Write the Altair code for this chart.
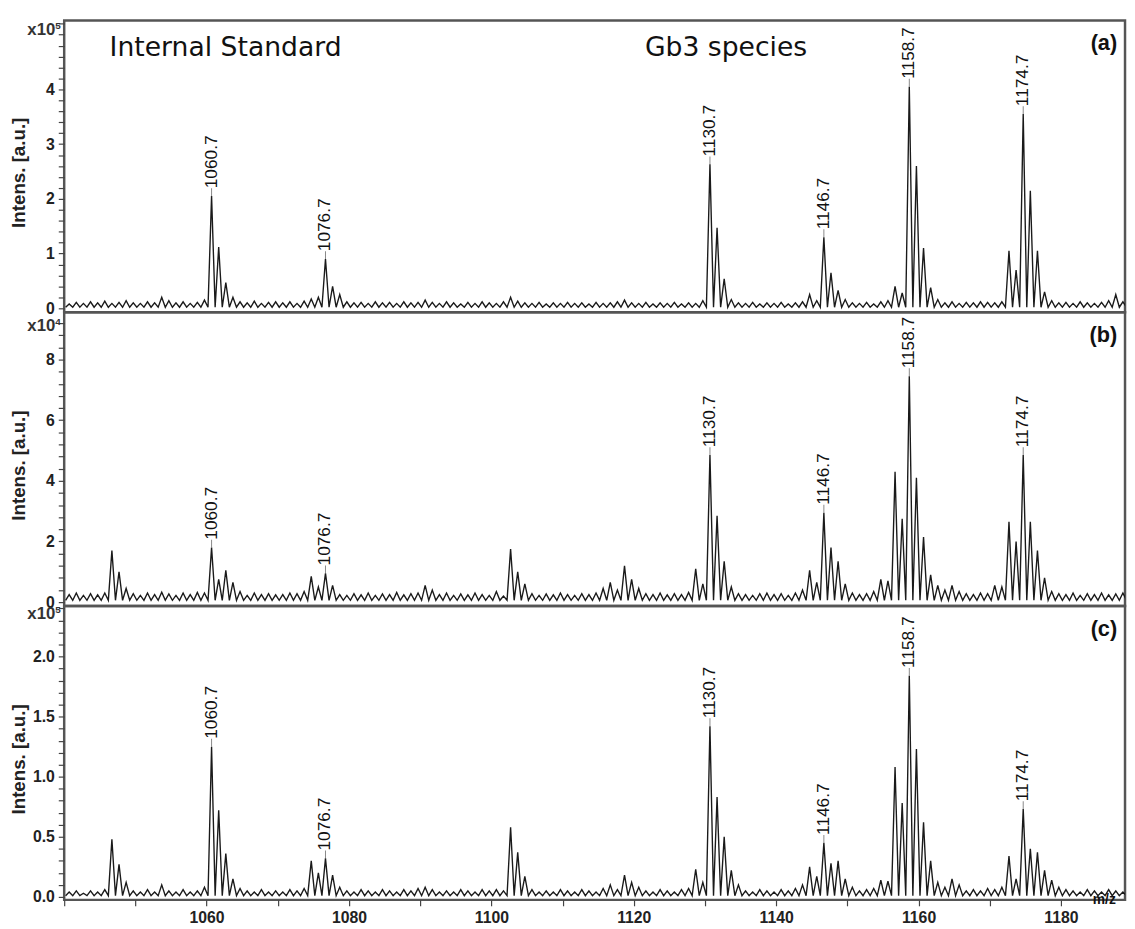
import altair as alt
import pandas as pd

# ---------------- data ----------------
MZ_FIRST = 1040.7          # first nominal-mass position (.7 series)
X_DOMAIN = [1040, 1189]

# panel (a): intensities x10^5 at 1040.7, 1041.7, ... 1188.7
a_int = [
    0.08, 0.11, 0.09, 0.12, 0.10, 0.13, 0.09, 0.11, 0.14, 0.10,
    0.09, 0.12, 0.10, 0.20, 0.14, 0.10, 0.12, 0.09, 0.11, 0.15,
    2.05, 1.12, 0.47, 0.20, 0.12, 0.10, 0.13, 0.09, 0.11, 0.12,
    0.10, 0.12, 0.09, 0.13, 0.17, 0.20, 0.90, 0.40, 0.25, 0.12,
    0.10, 0.11, 0.09, 0.12, 0.10, 0.11, 0.09, 0.12, 0.10, 0.11,
    0.15, 0.11, 0.09, 0.12, 0.10, 0.08, 0.11, 0.09, 0.12, 0.10,
    0.09, 0.12, 0.20, 0.13, 0.10, 0.09, 0.11, 0.08, 0.10, 0.09,
    0.11, 0.09, 0.10, 0.08, 0.11, 0.09, 0.10, 0.12, 0.15, 0.10,
    0.09, 0.11, 0.08, 0.10, 0.09, 0.11, 0.08, 0.10, 0.09, 0.14,
    2.63, 1.47, 0.54, 0.16, 0.10, 0.09, 0.11, 0.08, 0.10, 0.09,
    0.11, 0.08, 0.10, 0.12, 0.25, 0.14, 1.30, 0.65, 0.33, 0.16,
    0.10, 0.09, 0.11, 0.08, 0.12, 0.14, 0.40, 0.28, 4.05, 2.60,
    1.10, 0.38, 0.16, 0.10, 0.12, 0.09, 0.11, 0.10, 0.12, 0.11,
    0.10, 0.12, 1.05, 0.70, 3.55, 2.15, 1.05, 0.30, 0.14, 0.10,
    0.11, 0.09, 0.12, 0.10, 0.09, 0.11, 0.14, 0.25, 0.12,
]
# panel (b): intensities x10^4
b_int = [
    0.25, 0.30, 0.22, 0.28, 0.24, 0.30, 1.70, 1.00, 0.45, 0.28,
    0.22, 0.30, 0.25, 0.33, 0.27, 0.22, 0.30, 0.25, 0.32, 0.30,
    1.80, 0.75, 1.05, 0.65, 0.35, 0.22, 0.30, 0.25, 0.28, 0.24,
    0.25, 0.30, 0.28, 0.35, 0.85, 0.50, 0.95, 0.55, 0.25, 0.22,
    0.28, 0.24, 0.30, 0.22, 0.27, 0.25, 0.32, 0.24, 0.28, 0.30,
    0.55, 0.40, 0.25, 0.30, 0.22, 0.27, 0.24, 0.30, 0.25, 0.22,
    0.35, 0.20, 1.75, 1.00, 0.60, 0.28, 0.22, 0.27, 0.24, 0.30,
    0.25, 0.22, 0.28, 0.25, 0.30, 0.45, 0.65, 0.40, 1.20, 0.75,
    0.45, 0.28, 0.25, 0.30, 0.24, 0.28, 0.25, 0.32, 1.10, 0.60,
    4.85, 2.85, 1.35, 0.50, 0.28, 0.25, 0.22, 0.28, 0.30, 0.25,
    0.28, 0.22, 0.30, 0.40, 1.05, 0.65, 2.95, 1.80, 1.35, 0.60,
    0.30, 0.25, 0.28, 0.35, 0.75, 0.70, 4.30, 2.75, 7.45, 4.10,
    2.15, 0.90, 0.55, 0.40, 0.55, 0.35, 0.28, 0.25, 0.30, 0.28,
    0.55, 0.50, 2.65, 2.00, 4.85, 2.65, 1.70, 0.80, 0.35, 0.28,
    0.25, 0.30, 0.22, 0.28, 0.25, 0.30, 0.24, 0.27, 0.30,
]
# panel (c): intensities x10^5
c_int = [
    0.04, 0.05, 0.03, 0.05, 0.04, 0.06, 0.48, 0.27, 0.12, 0.05,
    0.04, 0.06, 0.04, 0.10, 0.05, 0.04, 0.06, 0.04, 0.05, 0.08,
    1.25, 0.72, 0.36, 0.15, 0.07, 0.05, 0.04, 0.06, 0.04, 0.05,
    0.04, 0.06, 0.05, 0.07, 0.30, 0.20, 0.32, 0.18, 0.08, 0.05,
    0.04, 0.06, 0.05, 0.04, 0.06, 0.05, 0.04, 0.06, 0.05, 0.07,
    0.08, 0.06, 0.04, 0.05, 0.04, 0.06, 0.05, 0.04, 0.06, 0.05,
    0.06, 0.05, 0.58, 0.37, 0.17, 0.06, 0.04, 0.05, 0.04, 0.06,
    0.05, 0.04, 0.06, 0.05, 0.04, 0.07, 0.10, 0.06, 0.18, 0.12,
    0.08, 0.05, 0.04, 0.06, 0.05, 0.04, 0.06, 0.07, 0.23, 0.12,
    1.42, 0.83, 0.50, 0.22, 0.10, 0.05, 0.04, 0.06, 0.05, 0.04,
    0.06, 0.05, 0.07, 0.10, 0.25, 0.17, 0.45, 0.28, 0.30, 0.15,
    0.08, 0.05, 0.06, 0.07, 0.14, 0.13, 1.08, 0.78, 1.84, 1.23,
    0.62, 0.30, 0.12, 0.08, 0.15, 0.10, 0.05, 0.06, 0.05, 0.07,
    0.06, 0.08, 0.34, 0.15, 0.73, 0.40, 0.37, 0.22, 0.14, 0.08,
    0.06, 0.05, 0.04, 0.06, 0.05, 0.04, 0.06, 0.05, 0.04,
]
baselines = [0.02, 0.06, 0.01]           # valley level between nominal masses
label_mz = [1060.7, 1076.7, 1130.7, 1146.7, 1158.7, 1174.7]
panel_tags = ["(a)", "(b)", "(c)"]
exponents = ["5", "4", "5"]
y_domains = [[-0.072, 5.26], [-0.13, 9.56], [-0.025, 2.42]]
y_major = [[0, 1, 2, 3, 4], [0, 2, 4, 6, 8], [0.0, 0.5, 1.0, 1.5, 2.0]]
y_minor_step = [0.2, 0.4, 0.1]
y_label_fmt = ["d", "d", ".1f"]
x_tick_values = [1040, 1050, 1060, 1070, 1080, 1090, 1100, 1110, 1120,
                 1130, 1140, 1150, 1160, 1170, 1180]
x_label_values = [1060, 1080, 1100, 1120, 1140, 1160, 1180]

heights = [296, 298, 298]
PLOT_W = 1076
LINE_COLOR = "#1a1a1a"
TXT = "#111111"


def spectrum_df(vals, base):
    rows = []
    for i, h in enumerate(vals):
        mz = round(MZ_FIRST + i, 1)
        rows.append({"mz": round(mz - 0.5, 1), "inten": base})
        rows.append({"mz": mz, "inten": h})
    rows.append({"mz": round(MZ_FIRST + len(vals) - 0.5, 1), "inten": base})
    return pd.DataFrame(rows)


def make_panel(k, vals):
    df = spectrum_df(vals, baselines[k])
    lookup = {round(MZ_FIRST + i, 1): h for i, h in enumerate(vals)}
    lab = pd.DataFrame({"mz": label_mz,
                        "inten": [lookup[m] for m in label_mz],
                        "txt": [f"{m:.1f}" for m in label_mz]})
    top = y_domains[k][1]
    step = y_minor_step[k]
    yvals = [round(step * j, 2) for j in range(0, int(top / step) + 1)]
    y_axis = alt.Axis(
        values=yvals,
        labelExpr=f"indexof({y_major[k]}, datum.value) >= 0 ? format(datum.value, '{y_label_fmt[k]}') : ''",
        title="Intens. [a.u.]", titleAngle=270, titleAlign="center",
        titleBaseline="alphabetic", titleX=-40, titleY=heights[k] / 2 + 6,
        tickSize=6, labelPadding=4, domain=False, grid=False,
        labelFlush=False, labelOverlap=False)
    if k == 2:
        x_axis = alt.Axis(
            values=x_tick_values,
            labelExpr=f"indexof({x_label_values}, datum.value) >= 0 ? format(datum.value, 'd') : ''",
            title=None, tickSize=6, labelPadding=4, domain=False, grid=False,
            labelFlush=False, labelOverlap=False)
    else:
        x_axis = None
    X = alt.X("mz:Q", scale=alt.Scale(domain=X_DOMAIN, nice=False, zero=False), axis=x_axis)
    Y = alt.Y("inten:Q", scale=alt.Scale(domain=y_domains[k], nice=False, zero=False), axis=y_axis)

    line = alt.Chart(df).mark_line(color=LINE_COLOR, strokeWidth=1.4, clip=True).encode(x=X, y=Y)
    marker = alt.Chart(lab).mark_tick(orient="vertical", size=8, thickness=1,
                                      color="#555", yOffset=-4).encode(x=X, y=Y)
    labels = alt.Chart(lab).mark_text(angle=270, align="left", baseline="middle", dx=8,
                                      font="Liberation Sans", fontSize=17.5, color=TXT).encode(
        x=X, y=Y, text="txt:N")

    one = pd.DataFrame({"d": [0]})
    annots = [
        alt.Chart(one).mark_text(text=panel_tags[k], align="right", baseline="alphabetic",
                                 font="Liberation Sans", fontWeight="bold", fontSize=22,
                                 color=TXT).encode(x=alt.value(1068), y=alt.value(30)),
        alt.Chart(one).mark_text(text="x10", align="right", baseline="alphabetic",
                                 font="Liberation Sans", fontWeight="bold", fontSize=17,
                                 color="#333").encode(x=alt.value(-9), y=alt.value([15, 19, 13][k])),
        alt.Chart(one).mark_text(text=exponents[k], align="left", baseline="alphabetic",
                                 font="Liberation Sans", fontWeight="bold", fontSize=10,
                                 color="#333").encode(x=alt.value(-9), y=alt.value([9, 13, 7][k])),
    ]
    if k == 0:
        annots.append(alt.Chart(one).mark_text(text="Internal Standard", align="left",
                                               baseline="alphabetic", font="DejaVu Sans",
                                               fontSize=27, color=TXT).encode(
            x=alt.value(46), y=alt.value(36)))
        annots.append(alt.Chart(one).mark_text(text="Gb3 species", align="left",
                                               baseline="alphabetic", font="DejaVu Sans",
                                               fontSize=27, color=TXT).encode(
            x=alt.value(589), y=alt.value(36)))
    if k == 2:
        annots.append(alt.Chart(one).mark_text(text="m/z", align="center", baseline="alphabetic",
                                               font="Liberation Sans", fontWeight="bold",
                                               fontSize=14, color=TXT).encode(
            x=alt.value(1055), y=alt.value(302)))
    return alt.layer(line, marker, labels, *annots).properties(width=PLOT_W, height=heights[k])


panels = [make_panel(0, a_int), make_panel(1, b_int), make_panel(2, c_int)]

chart = alt.vconcat(*panels, spacing=0, bounds="flush").properties(
    padding={"left": 0, "top": 0, "right": 0, "bottom": 0}
).configure_view(
    stroke="#555555", strokeWidth=2.5
).configure_axis(
    labelFont="Liberation Sans", labelFontWeight="bold", labelFontSize=16, labelColor="#222",
    titleFont="Liberation Sans", titleFontWeight="bold", titleFontSize=19, titleColor="#222",
    tickColor="#444", tickWidth=1.2
)

chart.save("out.html", embed_options={"renderer": "svg", "actions": False})
